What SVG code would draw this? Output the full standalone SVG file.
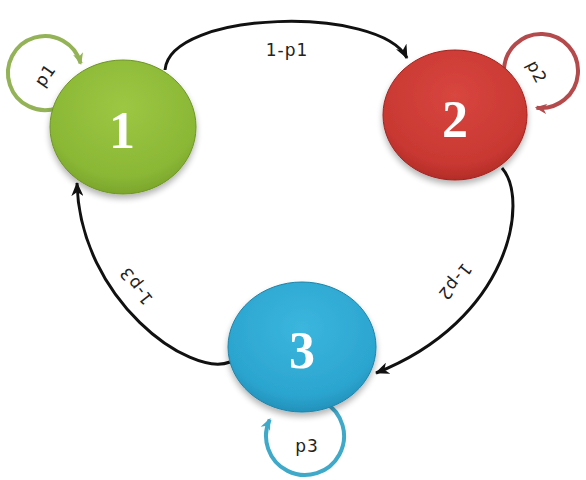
<svg xmlns="http://www.w3.org/2000/svg" width="586" height="480" viewBox="0 0 586 480">
  <defs>
    <radialGradient id="gGreen" cx="50%" cy="35%" r="70%">
      <stop offset="0" stop-color="#9cc744"/>
      <stop offset="0.75" stop-color="#8ab735"/>
      <stop offset="1" stop-color="#759f28"/>
    </radialGradient>
    <radialGradient id="gRed" cx="50%" cy="35%" r="70%">
      <stop offset="0" stop-color="#d8463f"/>
      <stop offset="0.75" stop-color="#c93832"/>
      <stop offset="1" stop-color="#aa2823"/>
    </radialGradient>
    <radialGradient id="gBlue" cx="50%" cy="35%" r="70%">
      <stop offset="0" stop-color="#3bb6dd"/>
      <stop offset="0.75" stop-color="#2ba5d0"/>
      <stop offset="1" stop-color="#1f8ab2"/>
    </radialGradient>
    <filter id="shadow" x="-20%" y="-20%" width="140%" height="150%">
      <feGaussianBlur in="SourceAlpha" stdDeviation="3"/>
      <feOffset dx="0" dy="4" result="b"/>
      <feComponentTransfer><feFuncA type="linear" slope="0.3"/></feComponentTransfer>
      <feMerge><feMergeNode/><feMergeNode in="SourceGraphic"/></feMerge>
    </filter>
    <marker id="arrBlack" viewBox="0 0 14 12" refX="13" refY="6" markerWidth="14" markerHeight="12" markerUnits="userSpaceOnUse" orient="auto">
      <path d="M0,0 L14,6 L0,12 L4,6 z" fill="#111"/>
    </marker>
    <marker id="arrGreen" viewBox="0 0 14 12" refX="12" refY="6" markerWidth="12" markerHeight="11" markerUnits="userSpaceOnUse" orient="auto">
      <path d="M0,0 L14,6 L0,12 L4,6 z" fill="#93b356"/>
    </marker>
    <marker id="arrRed" viewBox="0 0 14 12" refX="12" refY="6" markerWidth="12" markerHeight="11" markerUnits="userSpaceOnUse" orient="auto">
      <path d="M0,0 L14,6 L0,12 L4,6 z" fill="#b54a4c"/>
    </marker>
    <marker id="arrBlue" viewBox="0 0 14 12" refX="12" refY="6" markerWidth="12" markerHeight="11" markerUnits="userSpaceOnUse" orient="auto">
      <path d="M0,0 L14,6 L0,12 L4,6 z" fill="#3fa9c9"/>
    </marker>
  </defs>
  <style>
    .edge { fill: none; stroke: #111; stroke-width: 3; marker-end: url(#arrBlack); }
    .loop { fill: none; stroke-width: 4; }
    .node { stroke-width: 1; filter: url(#shadow); }
    .lbl { font-family: "DejaVu Sans", "Liberation Sans", sans-serif; font-size: 17px; fill: #222; text-anchor: middle; dominant-baseline: central; letter-spacing: 1px; }
    .num { font-family: "Liberation Serif", "DejaVu Serif", serif; font-size: 52px; font-weight: bold; fill: #ffffff; text-anchor: middle; }
  </style>
  <rect width="586" height="480" fill="#ffffff"/>

  <g id="connectors">
    <path class="loop" d="M57.7,107.8 A37 37 0 1 1 80.7,63.4" stroke="#93b356" marker-end="url(#arrGreen)"/>
    <path class="loop" d="M504,71 A37 37 0 1 1 536.5,107.7" stroke="#b54a4c" marker-end="url(#arrRed)"/>
    <path class="loop" d="M324.5,402.2 A39 39 0 1 1 269.7,419.5" stroke="#3fa9c9" marker-end="url(#arrBlue)"/>
    <path class="edge" d="M165,70 C170,10 380,5 407,58"/>
    <path class="edge" d="M502,168 C530,200 510,320 376,373"/>
    <path class="edge" d="M230,362 C190,378 80,300 77,183"/>
  </g>

  <g id="node1">
    <ellipse class="node" cx="123" cy="127" rx="73" ry="67" fill="url(#gGreen)" stroke="#6f9625"/>
    <text class="num" x="122" y="148">1</text>
  </g>
  <g id="node2">
    <ellipse class="node" cx="455" cy="115" rx="72" ry="65" fill="url(#gRed)" stroke="#a2231f"/>
    <text class="num" x="455" y="137">2</text>
  </g>
  <g id="node3">
    <ellipse class="node" cx="302" cy="347" rx="74" ry="65" fill="url(#gBlue)" stroke="#1c83a9"/>
    <text class="num" x="302" y="368">3</text>
  </g>

  <g id="labels">
    <text class="lbl" x="287" y="50">1-p1</text>
    <text class="lbl" transform="translate(455,282) rotate(129)">1-p2</text>
    <text class="lbl" transform="translate(136,286) rotate(232)">1-p3</text>
    <text class="lbl" transform="translate(45,75) rotate(-55)">p1</text>
    <text class="lbl" transform="translate(537,72) rotate(63)">p2</text>
    <text class="lbl" x="307" y="446">p3</text>
  </g>
</svg>
